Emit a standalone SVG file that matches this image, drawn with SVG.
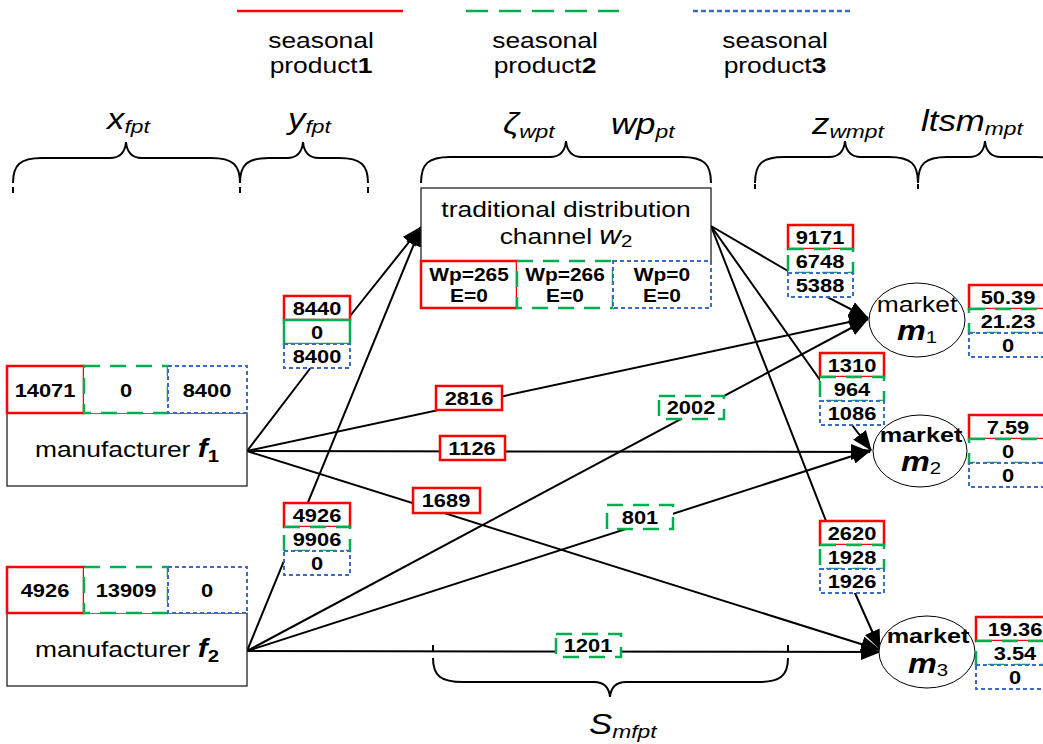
<svg xmlns="http://www.w3.org/2000/svg" width="1043" height="744" viewBox="0 0 1043 744">
<defs>
<style>
text{font-family:"Liberation Sans",Arial,sans-serif;fill:#000}
.t{font-size:22px;text-anchor:middle}
.tb{font-size:21px;font-weight:bold;text-anchor:middle}
.n{font-size:19px;font-weight:bold;text-anchor:middle}
.ms{font-size:29px;font-style:italic}
.ss{font-size:19px;font-style:italic}
.ln{fill:none;stroke:#000;stroke-width:2}
.br{fill:none;stroke:#000;stroke-width:2}
.r{fill:#fff;stroke:#ff0000;stroke-width:2.5}
.g{fill:#fff;stroke:#00b050;stroke-width:2.5;stroke-dasharray:16 10}
.gs{fill:#fff;stroke:#00b050;stroke-width:2.5}
.b{fill:#fff;stroke:#3a6bc0;stroke-width:2;stroke-dasharray:4 3}
.box{fill:#fff;stroke:#222;stroke-width:1.3}
.el{fill:#fff;stroke:#000;stroke-width:1}
</style>
<marker id="ah" markerUnits="userSpaceOnUse" markerWidth="20" markerHeight="16" refX="19" refY="8" orient="auto" viewBox="0 0 20 16"><path d="M0,0 L20,8 L0,16 z" fill="#000"/></marker>
</defs>
<rect width="1043" height="744" fill="#fff"/>

<g id="legend">
<line x1="237" y1="11" x2="403" y2="11" stroke="#ff0000" stroke-width="2.5"/>
<line x1="466" y1="11" x2="619" y2="11" stroke="#00b050" stroke-width="2.5" stroke-dasharray="22 11"/>
<line x1="693" y1="11" x2="850" y2="11" stroke="#3a6bc0" stroke-width="2.5" stroke-dasharray="5 3"/>
<text class="t" transform="translate(321,48) scale(1.2,1)">seasonal</text>
<text class="t" transform="translate(321,73) scale(1.2,1)">product<tspan font-weight="bold">1</tspan></text>
<text class="t" transform="translate(545,48) scale(1.2,1)">seasonal</text>
<text class="t" transform="translate(545,73) scale(1.2,1)">product<tspan font-weight="bold">2</tspan></text>
<text class="t" transform="translate(775,48) scale(1.2,1)">seasonal</text>
<text class="t" transform="translate(775,73) scale(1.2,1)">product<tspan font-weight="bold">3</tspan></text>
</g>

<g id="braces">
<path class="br" d="M13,183 C13,165 20,158 42,158 L110,158 C120,158 125,153 126,142 C127,153 132,158 142,158 L211,158 C233,158 240,165 240,183 M240,183 C240,165 247,158 269,158 L287,158 C297,158 302,153 303,142 C304,153 309,158 319,158 L339,158 C361,158 368,165 368,183"/>
<path class="br" d="M13,187 L13,193 M240,187 L240,193 M368,187 L368,193" stroke-width="1.5"/>
<path class="br" d="M421,183 C421,164 428,157 450,157 L550,157 C560,157 565,152 566,141 C567,152 572,157 582,157 L682,157 C704,157 711,164 711,183"/>
<path class="br" d="M755,183 C755,164 762,157 784,157 L829,157 C839,157 844,152 845,141 C846,152 851,157 861,157 L889,157 C911,157 918,164 918,183 M918,183 C918,164 925,157 947,157 L969,157 C979,157 984,152 985,141 C986,152 991,157 1001,157 L1036,157 C1058,157 1065,164 1065,183"/>
<path class="br" d="M755,184 L755,189 M918,184 L918,189" stroke-width="1.5"/>
<path class="br" d="M433,658 C433,676 441,682 463,682 L594,682 C604,682 609,687 610,697 C611,687 616,682 626,682 L758,682 C780,682 788,676 788,658"/>
<path class="br" d="M433,645 L433,651 M788,645 L788,651" stroke-width="1.5"/>
<text transform="translate(107,129) scale(1.2,1)"><tspan class="ms">x</tspan><tspan class="ss" dy="4">fpt</tspan></text>
<text transform="translate(288,129) scale(1.2,1)"><tspan class="ms">y</tspan><tspan class="ss" dy="4">fpt</tspan></text>
<text transform="translate(503,134) scale(1.2,1)"><tspan class="ms">ζ</tspan><tspan class="ss" dy="4">wpt</tspan></text>
<text transform="translate(611,134) scale(1.2,1)"><tspan class="ms">wp</tspan><tspan class="ss" dy="4">pt</tspan></text>
<text transform="translate(812,134) scale(1.2,1)"><tspan class="ms">z</tspan><tspan class="ss" dy="4">wmpt</tspan></text>
<text transform="translate(921,131) scale(1.2,1)"><tspan class="ms">ltsm</tspan><tspan class="ss" dy="4">mpt</tspan></text>
<text transform="translate(589,734) scale(1.2,1)"><tspan class="ms">S</tspan><tspan class="ss" dy="4">mfpt</tspan></text>
</g>

<g id="connectors">
<path class="ln" d="M247,451 L312,366 L350,316 L421,227" marker-end="url(#ah)"/>
<path class="ln" d="M247,651 L421,227" marker-end="url(#ah)"/>
<path class="ln" d="M247,451 L868,318" marker-end="url(#ah)"/>
<path class="ln" d="M247,451 L870,452" marker-end="url(#ah)"/>
<path class="ln" d="M247,451 L880,650" marker-end="url(#ah)"/>
<path class="ln" d="M247,651 L868,319" marker-end="url(#ah)"/>
<path class="ln" d="M247,651 L871,450" marker-end="url(#ah)"/>
<path class="ln" d="M247,651 L880,652" marker-end="url(#ah)"/>
<path class="ln" d="M711,226 L788,271 L827,297 L868,318" marker-end="url(#ah)"/>
<path class="ln" d="M711,226 L820,380 L852,425 L871,450" marker-end="url(#ah)"/>
<path class="ln" d="M711,226 L826,521 L855,593 L880,649" marker-end="url(#ah)"/>
</g>

<g id="f1">
<rect class="box" x="7" y="413" width="240" height="73"/>
<rect class="r" x="7" y="366" width="77" height="47"/>
<rect class="g" x="84" y="366" width="84" height="47"/>
<rect class="b" x="168" y="366" width="79" height="47"/>
<text class="n" transform="translate(45,397) scale(1.15,1)">14071</text>
<text class="n" transform="translate(126,397) scale(1.15,1)">0</text>
<text class="n" transform="translate(207,397) scale(1.15,1)">8400</text>
<text class="t" transform="translate(127,457) scale(1.2,1)">manufacturer <tspan font-weight="bold" font-style="italic" font-size="25">f</tspan><tspan font-weight="bold" font-size="17" dy="5">1</tspan></text>
</g>

<g id="f2">
<rect class="box" x="7" y="613" width="240" height="73"/>
<rect class="r" x="7" y="567" width="77" height="46"/>
<rect class="g" x="84" y="567" width="84" height="46"/>
<rect class="b" x="168" y="567" width="79" height="46"/>
<text class="n" transform="translate(45,597) scale(1.15,1)">4926</text>
<text class="n" transform="translate(126,597) scale(1.15,1)">13909</text>
<text class="n" transform="translate(207,597) scale(1.15,1)">0</text>
<text class="t" transform="translate(127,657) scale(1.2,1)">manufacturer <tspan font-weight="bold" font-style="italic" font-size="25">f</tspan><tspan font-weight="bold" font-size="17" dy="5">2</tspan></text>
</g>

<g id="w2">
<rect class="box" x="421" y="188" width="290" height="74"/>
<rect class="r" x="421" y="261" width="96" height="47"/>
<rect class="g" x="517" y="261" width="96" height="47"/>
<rect class="b" x="613" y="261" width="98" height="47"/>
<text class="t" transform="translate(566,217) scale(1.2,1)">traditional distribution</text>
<text class="t" transform="translate(566,244) scale(1.2,1)">channel <tspan font-style="italic" font-size="25">w</tspan><tspan font-size="17" dy="3">2</tspan></text>
<text class="n" transform="translate(469,281) scale(1.1,1)">Wp=265</text>
<text class="n" transform="translate(469,302) scale(1.1,1)">E=0</text>
<text class="n" transform="translate(565,281) scale(1.1,1)">Wp=266</text>
<text class="n" transform="translate(565,302) scale(1.1,1)">E=0</text>
<text class="n" transform="translate(662,281) scale(1.1,1)">Wp=0</text>
<text class="n" transform="translate(662,302) scale(1.1,1)">E=0</text>
</g>

<g id="m1">
<ellipse class="el" cx="917" cy="320" rx="48" ry="37"/>
<text class="t" transform="translate(917,312) scale(1.2,1)">market</text>
<text class="t" transform="translate(917,340) scale(1.2,1)"><tspan font-weight="bold" font-style="italic" font-size="27">m</tspan><tspan font-size="17" dy="3">1</tspan></text>
<rect class="r" x="969" y="285" width="82" height="24"/>
<rect class="g" x="969" y="309" width="82" height="24"/>
<rect class="b" x="969" y="333" width="82" height="24"/>
<text class="n" transform="translate(1008,304) scale(1.15,1)">50.39</text>
<text class="n" transform="translate(1008,328) scale(1.15,1)">21.23</text>
<text class="n" transform="translate(1008,352) scale(1.15,1)">0</text>
</g>

<g id="m2">
<ellipse class="el" cx="920" cy="451" rx="47" ry="36"/>
<text class="tb" transform="translate(921,442) scale(1.2,1)">market</text>
<text class="t" transform="translate(921,471) scale(1.2,1)"><tspan font-weight="bold" font-style="italic" font-size="27">m</tspan><tspan font-size="17" dy="3">2</tspan></text>
<rect class="r" x="969" y="415" width="82" height="24"/>
<rect class="g" x="969" y="439" width="82" height="24"/>
<rect class="b" x="969" y="463" width="82" height="24"/>
<text class="n" transform="translate(1008,434) scale(1.15,1)">7.59</text>
<text class="n" transform="translate(1008,458) scale(1.15,1)">0</text>
<text class="n" transform="translate(1008,482) scale(1.15,1)">0</text>
</g>

<g id="m3">
<ellipse class="el" cx="927" cy="652" rx="48" ry="36"/>
<text class="tb" transform="translate(928,643) scale(1.2,1)">market</text>
<text class="t" transform="translate(928,673) scale(1.2,1)"><tspan font-weight="bold" font-style="italic" font-size="27">m</tspan><tspan font-size="17" dy="3">3</tspan></text>
<rect class="r" x="976" y="617" width="80" height="24"/>
<rect class="g" x="976" y="641" width="80" height="24"/>
<rect class="b" x="976" y="665" width="80" height="24"/>
<text class="n" transform="translate(1015,636) scale(1.15,1)">19.36</text>
<text class="n" transform="translate(1015,660) scale(1.15,1)">3.54</text>
<text class="n" transform="translate(1015,684) scale(1.15,1)">0</text>
</g>

<g id="labels">
<g id="lbl-f1-w2">
<rect class="r" x="284" y="296" width="66" height="24"/>
<rect class="gs" x="284" y="320" width="66" height="24"/>
<rect class="b" x="284" y="344" width="66" height="24"/>
<text class="n" transform="translate(317,315) scale(1.15,1)">8440</text>
<text class="n" transform="translate(317,339) scale(1.15,1)">0</text>
<text class="n" transform="translate(317,363) scale(1.15,1)">8400</text>
</g>
<g id="lbl-f2-w2">
<rect class="r" x="284" y="503" width="66" height="24"/>
<rect class="g" x="284" y="527" width="66" height="24"/>
<rect class="b" x="284" y="551" width="66" height="24"/>
<text class="n" transform="translate(317,522) scale(1.15,1)">4926</text>
<text class="n" transform="translate(317,546) scale(1.15,1)">9906</text>
<text class="n" transform="translate(317,570) scale(1.15,1)">0</text>
</g>
<g id="lbl-w2-m1">
<rect class="r" x="788" y="225" width="65" height="24"/>
<rect class="g" x="788" y="249" width="65" height="24"/>
<rect class="b" x="788" y="273" width="65" height="24"/>
<text class="n" transform="translate(820,244) scale(1.15,1)">9171</text>
<text class="n" transform="translate(820,268) scale(1.15,1)">6748</text>
<text class="n" transform="translate(820,292) scale(1.15,1)">5388</text>
</g>
<g id="lbl-w2-m2">
<rect class="r" x="820" y="353" width="64" height="24"/>
<rect class="g" x="820" y="377" width="64" height="24"/>
<rect class="b" x="820" y="401" width="64" height="24"/>
<text class="n" transform="translate(852,372) scale(1.15,1)">1310</text>
<text class="n" transform="translate(852,396) scale(1.15,1)">964</text>
<text class="n" transform="translate(852,420) scale(1.15,1)">1086</text>
</g>
<g id="lbl-w2-m3">
<rect class="r" x="820" y="521" width="64" height="24"/>
<rect class="g" x="820" y="545" width="64" height="24"/>
<rect class="b" x="820" y="569" width="64" height="24"/>
<text class="n" transform="translate(852,540) scale(1.15,1)">2620</text>
<text class="n" transform="translate(852,564) scale(1.15,1)">1928</text>
<text class="n" transform="translate(852,588) scale(1.15,1)">1926</text>
</g>
<g id="lbl-single">
<rect class="r" x="436" y="386" width="66" height="24"/>
<text class="n" transform="translate(469,405) scale(1.15,1)">2816</text>
<rect class="r" x="440" y="436" width="65" height="24"/>
<text class="n" transform="translate(472,455) scale(1.15,1)">1126</text>
<rect class="r" x="413" y="488" width="67" height="25"/>
<text class="n" transform="translate(446,507) scale(1.15,1)">1689</text>
<rect class="g" x="659" y="396" width="65" height="23"/>
<text class="n" transform="translate(691,414) scale(1.15,1)">2002</text>
<rect class="g" x="607" y="505" width="66" height="24"/>
<text class="n" transform="translate(640,524) scale(1.15,1)">801</text>
<rect class="g" x="556" y="634" width="65" height="23"/>
<text class="n" transform="translate(588,652) scale(1.15,1)">1201</text>
</g>
</g>
</svg>
